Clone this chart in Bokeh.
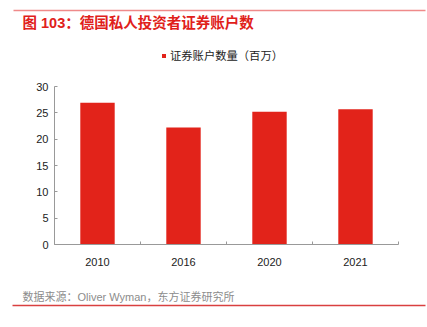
from bokeh.plotting import figure
from bokeh.models import (FixedTicker, ColumnDataSource, Label, Arrow,
                          LinearAxis, Range1d)
from bokeh.embed import file_html
from bokeh.resources import INLINE

# ---- data ----
years = ["2010", "2016", "2020", "2021"]
accounts = [26.9, 22.2, 25.2, 25.7]
y_ticks = [0, 5, 10, 15, 20, 25, 30]
y_max = 30
title_text = "图 103：德国私人投资者证券账户数"
legend_text = "证券账户数量（百万）"
source_text = "数据来源：Oliver Wyman，东方证券研究所"

RED = "#e2231a"
CJK = "Noto Sans CJK SC"
MIX = "Liberation Sans, Noto Sans CJK SC"
W, H = 427, 327

# plot-area placement on the canvas (pixels)
PX_L, PX_R, PX_T, PX_B = 54, 398, 86, 244
n = len(years)
xs = (PX_R - PX_L) / n          # px per category
ys = (PX_B - PX_T) / y_max      # px per unit

x_range = Range1d(-PX_L / xs, n + (W - PX_R) / xs)
y_range = Range1d(-(H - PX_B) / ys, y_max + PX_T / ys)

src = ColumnDataSource(dict(x=[i + 0.5 for i in range(n)], top=accounts, year=years))
p = figure(width=W, height=H, x_range=x_range, y_range=y_range,
           x_axis_type=None, y_axis_type=None,
           output_backend="svg", toolbar_location=None,
           min_border=0, outline_line_color=None)
p.grid.visible = False
p.vbar(x="x", top="top", width=0.4, bottom=0, source=src,
       fill_color=RED, line_color=None, legend_label=legend_text)

# axes fixed at the plot-area edges
xaxis = LinearAxis(fixed_location=0, bounds=(0, n),
                   ticker=FixedTicker(ticks=[i + 0.5 for i in range(n)],
                                      minor_ticks=list(range(n + 1))),
                   major_label_overrides={i + 0.5: y for i, y in enumerate(years)})
xaxis.major_tick_line_color = None
xaxis.minor_tick_in = 3
xaxis.minor_tick_out = 0
xaxis.minor_tick_line_color = "#999999"
xaxis.major_label_standoff = 7

yaxis = LinearAxis(fixed_location=0, bounds=(0, y_max),
                   ticker=FixedTicker(ticks=y_ticks))
yaxis.major_tick_in = 3
yaxis.major_tick_out = 0
yaxis.major_tick_line_color = "#999999"
yaxis.minor_tick_line_color = None
yaxis.major_label_standoff = 6

for ax in (xaxis, yaxis):
    ax.axis_line_color = "#999999"
    ax.major_label_text_font = "Liberation Sans"
    ax.major_label_text_font_size = "11px"
    ax.major_label_text_color = "#222222"
p.add_layout(xaxis, "below")
p.add_layout(yaxis, "left")

# legend (screen coords: from left, from bottom)
lg = p.legend[0]
lg.location = (161, H - 63)
lg.orientation = "horizontal"
lg.glyph_width = 5
lg.glyph_height = 5
lg.label_height = 12
lg.label_standoff = 4
lg.padding = 0
lg.margin = 0
lg.spacing = 0
lg.border_line_color = None
lg.background_fill_alpha = 0
lg.label_text_font = CJK
lg.label_text_font_size = "11.3px"
lg.label_text_color = "#222222"

# title, source and rules (screen coords)
p.add_layout(Label(x=22, y=H - 22, x_units="screen", y_units="screen",
                   text=title_text, text_font=MIX, text_font_size="14.5px",
                   text_font_style="bold", text_color="#e0201a",
                   text_baseline="middle", text_align="left"))
p.add_layout(Label(x=22, y=H - 296, x_units="screen", y_units="screen",
                   text=source_text, text_font=MIX, text_font_size="11px",
                   text_color="#8c8c8c", text_baseline="middle", text_align="left"))
p.add_layout(Arrow(x_start=13, y_start=H - 10, x_end=425, y_end=H - 10,
                   start_units="screen", end_units="screen", end=None,
                   line_color="#ef8a8a", line_width=1.5))
p.add_layout(Arrow(x_start=12, y_start=H - 305, x_end=425, y_end=H - 305,
                   start_units="screen", end_units="screen", end=None,
                   line_color="#d94040", line_width=1.5))

open("out.html", "w").write(file_html(p, INLINE))
